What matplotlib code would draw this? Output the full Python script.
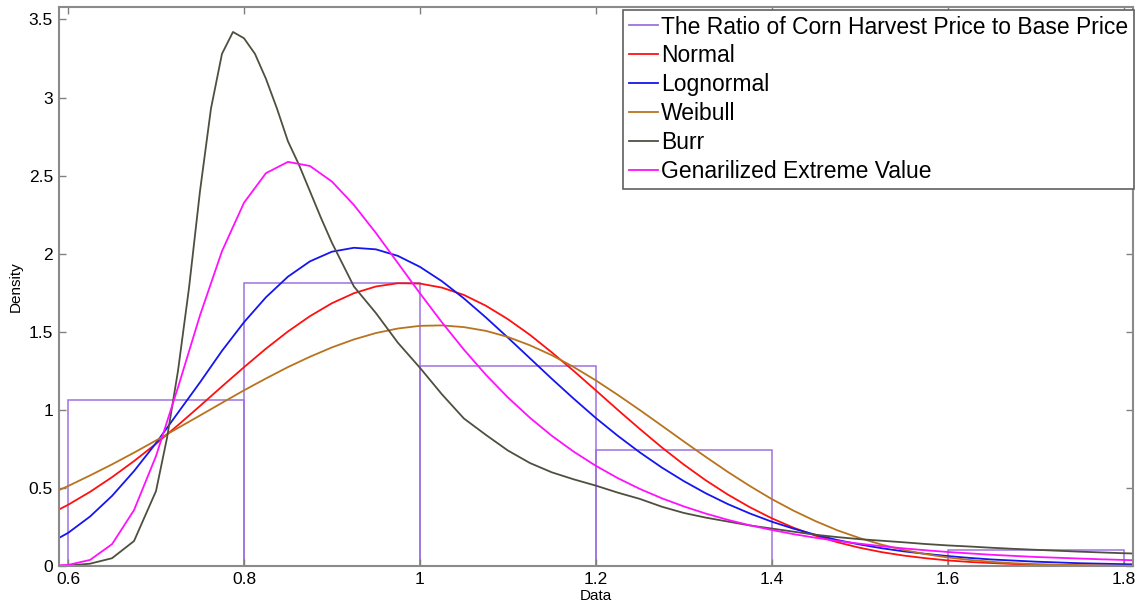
import matplotlib
matplotlib.use('Agg')
import matplotlib.pyplot as plt
from matplotlib.lines import Line2D

plt.rcParams['font.family'] = ['Liberation Sans', 'DejaVu Sans']

# histogram of the ratio (bin left edges, density heights)
bin_edges = [0.6, 0.8, 1.0, 1.2, 1.4, 1.6]
bin_heights = [1.06, 1.81, 1.28, 0.74, 0.0, 0.105]
bin_width = 0.2

# fitted densities
x_grid = [0.575, 0.6, 0.625, 0.65, 0.675, 0.7, 0.725, 0.75, 0.775, 0.8,
          0.825, 0.85, 0.875, 0.9, 0.925, 0.95, 0.975, 1.0, 1.025, 1.05,
          1.075, 1.1, 1.125, 1.15, 1.175, 1.2, 1.225, 1.25, 1.275, 1.3,
          1.325, 1.35, 1.375, 1.4, 1.425, 1.45, 1.475, 1.5, 1.525, 1.55,
          1.575, 1.6, 1.625, 1.65, 1.675, 1.7, 1.725, 1.75, 1.775, 1.8, 1.825]

normal = [0.319, 0.392, 0.475, 0.569, 0.672, 0.783, 0.902, 1.025, 1.150, 1.273,
          1.392, 1.502, 1.600, 1.683, 1.747, 1.790, 1.811, 1.809, 1.783, 1.736,
          1.667, 1.581, 1.481, 1.368, 1.249, 1.125, 1.000, 0.878, 0.760, 0.650,
          0.549, 0.458, 0.377, 0.306, 0.245, 0.194, 0.152, 0.117, 0.089, 0.067,
          0.050, 0.036, 0.026, 0.019, 0.013, 0.009, 0.006, 0.004, 0.003, 0.002, 0.001]

lognormal = [0.134, 0.212, 0.317, 0.449, 0.608, 0.787, 0.982, 1.176, 1.378, 1.561,
             1.721, 1.853, 1.951, 2.013, 2.038, 2.028, 1.986, 1.916, 1.824, 1.714,
             1.592, 1.463, 1.331, 1.199, 1.071, 0.948, 0.834, 0.728, 0.631, 0.544,
             0.466, 0.397, 0.337, 0.284, 0.239, 0.200, 0.166, 0.138, 0.114, 0.094,
             0.078, 0.064, 0.052, 0.042, 0.035, 0.028, 0.023, 0.018, 0.015, 0.012, 0.010]

weibull = [0.449, 0.512, 0.580, 0.651, 0.726, 0.804, 0.884, 0.964, 1.045, 1.125,
           1.201, 1.274, 1.340, 1.400, 1.451, 1.492, 1.521, 1.538, 1.541, 1.530,
           1.506, 1.467, 1.414, 1.350, 1.274, 1.189, 1.096, 0.999, 0.899, 0.798,
           0.699, 0.603, 0.513, 0.429, 0.354, 0.287, 0.228, 0.179, 0.137, 0.103,
           0.076, 0.055, 0.039, 0.027, 0.018, 0.012, 0.008, 0.005, 0.003, 0.002, 0.001]

gev = [0.001, 0.007, 0.039, 0.140, 0.358, 0.704, 1.144, 1.605, 2.016, 2.326,
       2.516, 2.588, 2.562, 2.462, 2.312, 2.133, 1.940, 1.747, 1.561, 1.386,
       1.225, 1.080, 0.950, 0.834, 0.732, 0.642, 0.563, 0.494, 0.434, 0.382,
       0.336, 0.296, 0.261, 0.231, 0.204, 0.181, 0.160, 0.143, 0.127, 0.113,
       0.101, 0.090, 0.081, 0.072, 0.065, 0.058, 0.053, 0.048, 0.043, 0.039, 0.035]

burr_x = [0.575, 0.6, 0.625, 0.65, 0.675, 0.7, 0.7125, 0.725, 0.7375, 0.75,
          0.7625, 0.775, 0.7875, 0.8, 0.8125, 0.825, 0.8375, 0.85, 0.8625, 0.875,
          0.8875, 0.9, 0.925, 0.95, 0.975, 1.0, 1.025, 1.05, 1.075, 1.1,
          1.125, 1.15, 1.175, 1.2, 1.225, 1.25, 1.275, 1.3, 1.325, 1.35,
          1.375, 1.4, 1.425, 1.45, 1.475, 1.5, 1.525, 1.55, 1.575, 1.6,
          1.625, 1.65, 1.675, 1.7, 1.725, 1.75, 1.775, 1.8, 1.825]
burr = [0.0, 0.003, 0.015, 0.05, 0.16, 0.48, 0.82, 1.25, 1.78, 2.40,
        2.93, 3.28, 3.42, 3.38, 3.28, 3.12, 2.93, 2.72, 2.57, 2.40,
        2.23, 2.07, 1.79, 1.62, 1.43, 1.27, 1.10, 0.945, 0.84, 0.74,
        0.66, 0.60, 0.555, 0.515, 0.47, 0.43, 0.38, 0.34, 0.31, 0.285,
        0.26, 0.24, 0.22, 0.20, 0.185, 0.172, 0.162, 0.152, 0.141, 0.132,
        0.125, 0.117, 0.110, 0.104, 0.098, 0.092, 0.087, 0.082, 0.078]

labels = ['The Ratio of Corn Harvest Price to Base Price', 'Normal', 'Lognormal',
          'Weibull', 'Burr', 'Genarilized Extreme Value']
colors = ['#9d72e0', '#ff1010', '#1515ee', '#b8731e', '#4f4f40', '#ff10ff']

x_ticks = [0.6, 0.8, 1.0, 1.2, 1.4, 1.6, 1.8]
x_ticklabels = ['0.6', '0.8', '1', '1.2', '1.4', '1.6', '1.8']
y_ticks = [0, 0.5, 1, 1.5, 2, 2.5, 3, 3.5]
y_ticklabels = ['0', '0.5', '1', '1.5', '2', '2.5', '3', '3.5']

fig = plt.figure(figsize=(11.37, 6.07), dpi=100)
ax = fig.add_axes([0.0515, 0.0675, 0.945, 0.921])

ax.bar(bin_edges, bin_heights, width=bin_width, align='edge', fill=False,
       edgecolor=colors[0], linewidth=1.1)
lw = 1.3
ax.plot(x_grid, normal, color=colors[1], linewidth=lw)
ax.plot(x_grid, lognormal, color=colors[2], linewidth=lw)
ax.plot(x_grid, weibull, color=colors[3], linewidth=lw)
ax.plot(burr_x, burr, color=colors[4], linewidth=lw)
ax.plot(x_grid, gev, color=colors[5], linewidth=lw)

ax.set_xlim(0.5892, 1.8108)
ax.set_ylim(0, 3.58)
ax.set_xticks(x_ticks)
ax.set_xticklabels(x_ticklabels)
ax.set_yticks(y_ticks)
ax.set_yticklabels(y_ticklabels)
ax.tick_params(direction='in', top=True, right=True, length=5, width=1,
               color='#808080', labelsize=12.5, pad=4)
for s in ax.spines.values():
    s.set_color('#8a8a8a')
    s.set_linewidth(1.5)

ax.set_xlabel('Data', fontsize=11, labelpad=2)
ax.set_ylabel('Density', fontsize=11, labelpad=4)

handles = [Line2D([0], [0], color=c, linewidth=1.3) for c in colors]
leg = ax.legend(handles, labels, loc='upper right', bbox_to_anchor=(1.001, 0.995),
                fontsize=16.5, frameon=True, fancybox=False, framealpha=1,
                handlelength=1.3, handletextpad=0.12, borderpad=0.25,
                labelspacing=0.26, borderaxespad=0)
leg.get_frame().set_edgecolor('#606060')
leg.get_frame().set_linewidth(1.2)

fig.savefig('out.png', dpi=100)
